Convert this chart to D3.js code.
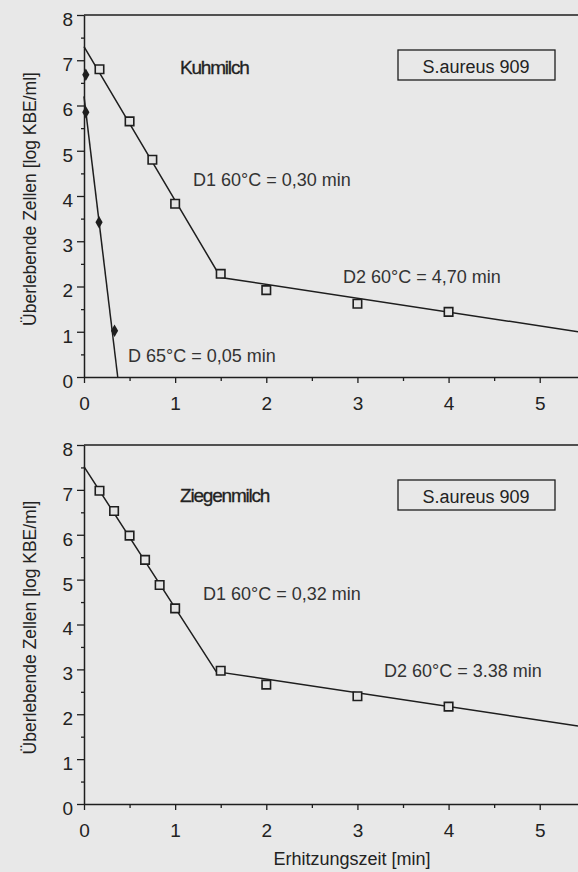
<!DOCTYPE html>
<html>
<head>
<meta charset="utf-8">
<script src="https://cdn.jsdelivr.net/npm/d3@7"></script>
<style>
  html, body { margin: 0; padding: 0; background: #e8e8e8; }
  svg { display: block; }
  text { font-family: "Liberation Sans", Arial, sans-serif; fill: #222; }
</style>
</head>
<body>
<div id="chart"></div>
<script>
const X_TICKS = [0, 1, 2, 3, 4, 5];
const X_MINOR = [0.5, 1.5, 2.5, 3.5, 4.5];
const Y_TICKS = [0, 1, 2, 3, 4, 5, 6, 7, 8];
const Y_MINOR = [0.5, 1.5, 2.5, 3.5, 4.5, 5.5, 6.5, 7.5];

// Kuhmilch, 60 °C (squares) and 65 °C (diamonds)
const cowTime60 = [0.17, 0.5, 0.75, 1.0, 1.5, 2, 3, 4];
const cowLog60 = [6.80, 5.65, 4.80, 3.83, 2.28, 1.92, 1.62, 1.44];
const cowFit60 = [[0, 7.3], [1.5, 2.2], [5.42, 1.0]];
const cowTime65 = [0.02, 0.02, 0.165, 0.335];
const cowLog65 = [6.68, 5.85, 3.42, 1.02];
const cowFit65 = [[0, 6.2], [0.37, 0]];

// Ziegenmilch, 60 °C
const goatTime60 = [0.17, 0.33, 0.5, 0.67, 0.83, 1.0, 1.5, 2, 3, 4];
const goatLog60 = [6.98, 6.53, 5.98, 5.44, 4.88, 4.36, 2.97, 2.66, 2.40, 2.17];
const goatFit60 = [[0, 7.52], [1.45, 2.95], [5.42, 1.74]];

const width = 578;
const height = 872;
const ink = "#1e1e1e";

const svg = d3.select("#chart")
  .append("svg")
  .attr("width", width)
  .attr("height", height);

const x = d3.scaleLinear().domain([0, 5.42]).range([84, 578]);

const drawPanel = ({ top, bottom, title, squares, fit, diamonds, fastFit, notes }) => {
  const y = d3.scaleLinear().domain([0, 8]).range([bottom, top]);
  const g = svg.append("g").style("color", ink);

  // frame line at y = 8
  g.append("line")
    .attr("x1", x(0)).attr("x2", width)
    .attr("y1", y(8)).attr("y2", y(8))
    .attr("stroke", ink).attr("stroke-width", 1.5);

  const yAxis = g.append("g")
    .attr("transform", `translate(${x(0)},0)`)
    .call(d3.axisLeft(y).tickValues(Y_TICKS).tickFormat(d3.format("d"))
      .tickSize(7).tickSizeOuter(0).tickPadding(4));
  yAxis.selectAll("text")
    .attr("dy", "0.55em")
    .style("font-size", "19px");
  g.append("g")
    .attr("transform", `translate(${x(0)},0)`)
    .call(d3.axisLeft(y).tickValues(Y_MINOR).tickSize(3).tickFormat(""))
    .call(a => a.select(".domain").remove());

  const xAxis = g.append("g")
    .attr("transform", `translate(0,${y(0)})`)
    .call(d3.axisBottom(x).tickValues(X_TICKS).tickFormat(d3.format("d"))
      .tickSize(6).tickSizeOuter(0).tickPadding(14));
  xAxis.selectAll("text").style("font-size", "19px");
  g.append("g")
    .attr("transform", `translate(0,${y(0)})`)
    .call(d3.axisBottom(x).tickValues(X_MINOR).tickSize(4).tickFormat(""))
    .call(a => a.select(".domain").remove());

  g.selectAll(".domain").attr("stroke-width", 1.5);
  g.selectAll(".tick line").attr("stroke-width", 1.3);

  const line = d3.line().x(d => x(d[0])).y(d => y(d[1]));
  [fit, fastFit].filter(Boolean).forEach(pts => {
    g.append("path")
      .attr("d", line(pts))
      .attr("fill", "none")
      .attr("stroke", ink)
      .attr("stroke-width", 1.5);
  });

  const square = d3.symbol().type(d3.symbolSquare).size(72);
  g.append("g")
    .selectAll("path")
    .data(d3.zip(squares[0], squares[1]))
    .join("path")
    .attr("transform", d => `translate(${x(d[0])},${y(d[1])})`)
    .attr("d", square)
    .attr("fill", "#e4e4e4")
    .attr("stroke", ink)
    .attr("stroke-width", 1.6);

  if (diamonds) {
    const diamond = d3.symbol().type(d3.symbolDiamond).size(45);
    g.append("g")
      .selectAll("path")
      .data(d3.zip(diamonds[0], diamonds[1]))
      .join("path")
      .attr("transform", d => `translate(${x(d[0])},${y(d[1])})`)
      .attr("d", diamond)
      .attr("fill", ink);
  }

  // milk type
  g.append("text")
    .attr("x", 180).attr("y", top + title.dy)
    .style("font-size", "19px")
    .style("letter-spacing", "-1.2px")
    .style("stroke", "#222").style("stroke-width", 0.3)
    .text(title.text);

  // strain box
  g.append("rect")
    .attr("x", 398).attr("y", top + 35)
    .attr("width", 157).attr("height", 30)
    .attr("fill", "none")
    .attr("stroke", ink)
    .attr("stroke-width", 1.3);
  g.append("text")
    .attr("x", 476).attr("y", top + 58)
    .attr("text-anchor", "middle")
    .style("font-size", "18px")
    .text("S.aureus 909");

  g.append("g")
    .selectAll("text")
    .data(notes)
    .join("text")
    .attr("x", d => d.x)
    .attr("y", d => top + d.dy)
    .style("font-size", "18px")
    .style("fill", "#333")
    .text(d => d.text);

  g.append("text")
    .attr("transform", `translate(36,${(top + bottom) / 2 + 3}) rotate(-90)`)
    .attr("text-anchor", "middle")
    .style("font-size", "17.5px")
    .text("Überlebende Zellen  [log KBE/ml]");
};

drawPanel({
  top: 15,
  bottom: 377,
  title: { text: "Kuhmilch", dy: 59 },
  squares: [cowTime60, cowLog60],
  fit: cowFit60,
  diamonds: [cowTime65, cowLog65],
  fastFit: cowFit65,
  notes: [
    { text: "D1 60°C = 0,30 min", x: 193, dy: 171 },
    { text: "D2 60°C = 4,70 min", x: 343, dy: 268 },
    { text: "D 65°C = 0,05 min", x: 128, dy: 347 },
  ],
});

drawPanel({
  top: 445,
  bottom: 804,
  title: { text: "Ziegenmilch", dy: 57 },
  squares: [goatTime60, goatLog60],
  fit: goatFit60,
  notes: [
    { text: "D1 60°C = 0,32 min", x: 203, dy: 155 },
    { text: "D2 60°C = 3.38 min", x: 384, dy: 232 },
  ],
});

svg.append("text")
  .attr("x", 352)
  .attr("y", 865)
  .attr("text-anchor", "middle")
  .style("font-size", "18px")
  .text("Erhitzungszeit  [min]");
</script>
</body>
</html>
